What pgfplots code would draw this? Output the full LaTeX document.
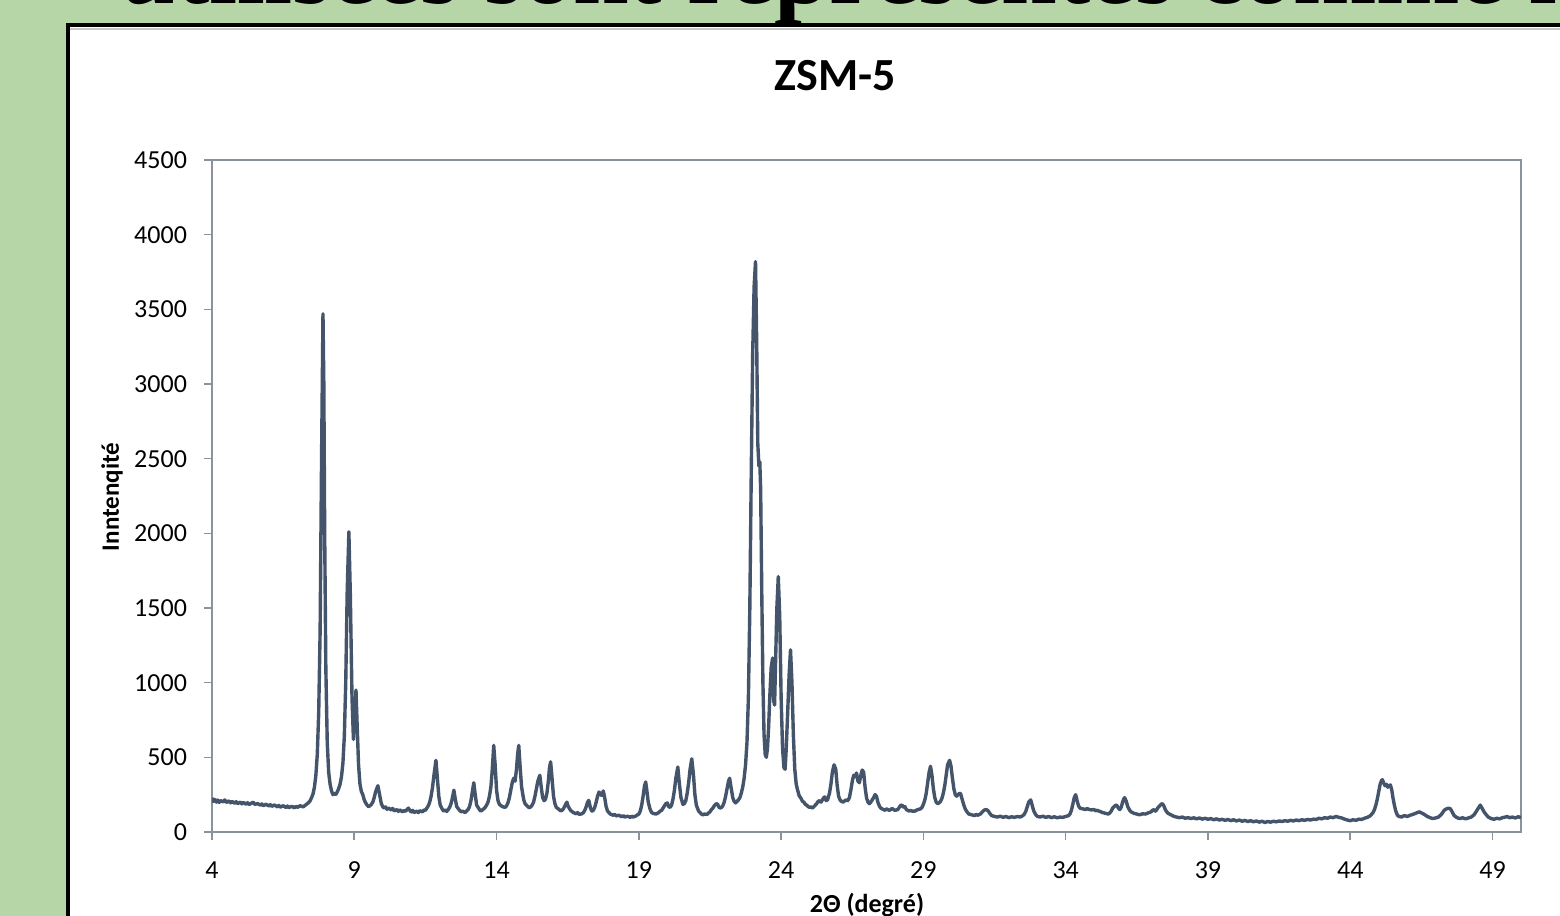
\documentclass[border=0pt]{standalone}
\usepackage{fontspec}
\setmainfont{Carlito}
\newfontfamily\serifbig{Liberation Serif}
\usepackage{pgfplots}
\pgfplotsset{compat=1.18}
\usepackage{pgfplotstable}
\definecolor{bggreen}{HTML}{B7D6A8}
\definecolor{linecol}{HTML}{44546A}
\definecolor{axcol}{HTML}{8A929C}

\pgfplotstableread{
x y
4.00 228
4.05 205
4.10 218
4.15 200
4.20 214
4.25 198
4.30 210
4.40 202
4.45 215
4.50 198
4.60 208
4.65 195
4.70 205
4.80 192
4.85 203
4.90 190
5.00 200
5.05 188
5.10 198
5.20 186
5.25 196
5.30 184
5.40 194
5.45 200
5.50 185
5.60 190
5.70 180
5.75 188
5.80 176
5.90 186
6.00 174
6.05 183
6.10 172
6.20 181
6.30 168
6.35 178
6.40 166
6.50 176
6.60 164
6.65 174
6.70 163
6.80 172
6.90 162
6.95 172
7.00 165
7.10 176
7.20 168
7.30 182
7.35 190
7.40 198
7.45 210
7.50 230
7.55 255
7.60 300
7.65 380
7.70 520
7.75 800
7.80 1350
7.85 2500
7.90 3470
7.93 3000
7.96 2000
8.00 1100
8.05 600
8.10 400
8.15 320
8.20 275
8.25 250
8.30 260
8.35 252
8.40 268
8.45 290
8.50 320
8.55 370
8.60 460
8.65 640
8.70 1000
8.75 1600
8.81 2010
8.86 1600
8.92 900
8.97 620
9.02 780
9.06 950
9.10 720
9.15 450
9.20 320
9.25 270
9.30 250
9.35 215
9.40 195
9.45 180
9.50 170
9.55 175
9.60 185
9.65 200
9.70 230
9.75 270
9.83 310
9.90 240
9.95 190
10.00 170
10.05 160
10.10 168
10.15 152
10.20 160
10.30 148
10.35 158
10.40 142
10.50 150
10.55 138
10.60 148
10.70 135
10.75 145
10.80 138
10.85 150
10.90 160
10.95 145
11.00 135
11.05 145
11.10 130
11.20 140
11.25 130
11.30 142
11.40 135
11.45 148
11.50 145
11.55 160
11.60 175
11.65 200
11.70 240
11.75 300
11.80 380
11.87 480
11.92 360
11.97 240
12.02 180
12.10 150
12.15 140
12.20 148
12.25 138
12.30 150
12.35 165
12.40 190
12.45 230
12.50 280
12.55 220
12.60 170
12.70 145
12.75 135
12.80 140
12.90 130
12.95 142
13.00 150
13.05 170
13.10 210
13.15 270
13.20 330
13.25 250
13.30 180
13.40 150
13.45 140
13.50 148
13.55 155
13.60 165
13.65 180
13.70 200
13.75 240
13.80 300
13.85 420
13.90 580
13.95 450
14.00 280
14.05 210
14.10 185
14.20 170
14.30 165
14.35 175
14.40 195
14.45 230
14.50 280
14.55 330
14.60 360
14.65 340
14.70 420
14.74 520
14.78 580
14.83 430
14.88 300
14.95 220
15.00 190
15.10 170
15.15 162
15.20 168
15.25 180
15.30 200
15.35 240
15.40 290
15.45 340
15.52 380
15.57 300
15.62 230
15.67 210
15.72 220
15.77 260
15.82 340
15.86 430
15.90 470
15.95 360
16.00 240
16.05 190
16.10 165
16.20 150
16.25 142
16.30 145
16.35 155
16.40 175
16.47 200
16.52 170
16.60 145
16.70 130
16.80 122
16.85 130
16.90 118
17.00 122
17.05 130
17.10 145
17.15 170
17.20 200
17.24 212
17.30 160
17.35 140
17.40 145
17.45 165
17.50 200
17.55 240
17.60 268
17.65 250
17.70 245
17.75 275
17.80 230
17.85 170
17.90 140
18.00 120
18.10 112
18.15 118
18.20 108
18.30 112
18.40 102
18.45 110
18.50 100
18.60 106
18.70 98
18.75 106
18.80 100
18.90 108
18.95 115
19.00 120
19.05 140
19.10 180
19.15 240
19.20 310
19.24 335
19.28 280
19.33 200
19.40 150
19.45 130
19.50 125
19.60 120
19.65 125
19.70 130
19.75 140
19.80 145
19.85 160
19.90 175
19.95 190
20.00 195
20.05 170
20.10 165
20.15 180
20.20 220
20.25 280
20.30 360
20.37 435
20.42 330
20.48 230
20.55 185
20.60 190
20.65 210
20.70 260
20.75 330
20.80 420
20.86 490
20.92 380
20.97 250
21.02 180
21.10 140
21.20 120
21.25 115
21.30 120
21.40 118
21.45 128
21.50 135
21.55 150
21.60 160
21.65 175
21.72 190
21.77 185
21.82 165
21.88 160
21.95 175
22.00 200
22.05 240
22.10 290
22.15 340
22.19 360
22.24 300
22.30 230
22.35 205
22.40 195
22.45 205
22.50 215
22.55 230
22.60 260
22.65 300
22.70 360
22.75 450
22.80 600
22.85 900
22.90 1500
22.95 2400
23.00 3200
23.05 3650
23.10 3820
23.14 3300
23.18 2600
23.22 2450
23.25 2480
23.28 2300
23.32 1600
23.36 1000
23.40 650
23.44 520
23.48 500
23.52 560
23.56 700
23.60 900
23.65 1100
23.70 1165
23.74 880
23.77 850
23.80 1100
23.85 1500
23.90 1710
23.95 1450
24.00 900
24.05 560
24.10 430
24.14 420
24.18 560
24.23 800
24.28 1050
24.33 1220
24.38 1000
24.43 650
24.48 420
24.53 320
24.58 280
24.63 245
24.70 225
24.75 205
24.80 200
24.85 185
24.90 180
24.95 170
25.00 165
25.05 168
25.10 160
25.15 170
25.20 180
25.25 190
25.30 205
25.35 210
25.40 200
25.45 215
25.50 230
25.53 235
25.58 210
25.63 215
25.70 260
25.75 320
25.80 400
25.86 450
25.92 420
25.97 310
26.02 240
26.07 215
26.12 205
26.18 200
26.24 210
26.30 215
26.34 210
26.40 230
26.45 280
26.50 340
26.55 380
26.60 370
26.65 395
26.70 340
26.75 330
26.80 380
26.85 415
26.90 400
26.95 300
27.00 230
27.05 200
27.10 190
27.15 200
27.20 215
27.25 230
27.30 250
27.35 240
27.40 200
27.45 175
27.50 160
27.60 150
27.65 145
27.70 155
27.80 145
27.85 150
27.90 158
27.95 150
28.00 145
28.10 150
28.15 165
28.20 178
28.25 180
28.30 165
28.35 170
28.40 150
28.50 140
28.55 145
28.60 140
28.70 140
28.80 150
28.90 155
28.95 165
29.00 185
29.05 215
29.10 260
29.15 330
29.20 400
29.25 440
29.30 380
29.35 290
29.40 230
29.45 200
29.50 190
29.55 195
29.60 205
29.65 225
29.70 260
29.75 310
29.80 380
29.85 450
29.92 480
29.97 440
30.02 360
30.07 290
30.12 250
30.17 240
30.22 250
30.27 260
30.31 255
30.36 220
30.42 180
30.48 150
30.55 130
30.60 120
30.70 115
30.80 110
30.85 118
30.90 112
31.00 120
31.05 130
31.10 140
31.15 148
31.22 150
31.28 140
31.35 120
31.40 110
31.50 104
31.60 100
31.70 106
31.80 98
31.90 104
32.00 96
32.10 102
32.20 98
32.30 104
32.40 100
32.50 110
32.55 120
32.60 140
32.65 170
32.70 200
32.77 215
32.82 180
32.88 140
32.95 115
33.00 105
33.10 100
33.20 106
33.30 98
33.40 104
33.50 96
33.60 102
33.70 95
33.80 100
33.90 98
34.00 104
34.10 110
34.15 120
34.20 145
34.25 185
34.30 230
34.35 250
34.40 210
34.45 175
34.50 160
34.60 155
34.70 150
34.75 158
34.80 152
34.90 148
35.00 150
35.05 142
35.10 145
35.20 138
35.30 130
35.40 125
35.50 120
35.55 128
35.60 140
35.65 160
35.70 170
35.75 178
35.79 180
35.85 160
35.90 150
35.95 165
36.00 200
36.05 225
36.07 230
36.12 210
36.18 170
36.25 145
36.30 135
36.40 125
36.50 120
36.60 115
36.70 122
36.80 120
36.90 128
37.00 135
37.05 145
37.10 150
37.15 140
37.20 150
37.25 165
37.30 175
37.35 185
37.40 190
37.45 175
37.50 150
37.55 135
37.60 125
37.70 115
37.80 105
37.90 100
38.00 96
38.10 100
38.20 92
38.30 96
38.40 90
38.50 95
38.60 88
38.70 94
38.80 86
38.90 92
39.00 85
39.10 90
39.20 82
39.30 88
39.40 80
39.50 85
39.60 78
39.70 84
39.80 76
39.90 82
40.00 74
40.10 80
40.20 72
40.30 78
40.40 70
40.50 76
40.60 68
40.70 74
40.80 66
40.90 72
41.00 64
41.10 70
41.20 66
41.30 72
41.40 68
41.50 74
41.60 70
41.70 76
41.80 72
41.90 78
42.00 74
42.10 80
42.20 76
42.30 82
42.40 78
42.50 84
42.60 80
42.70 86
42.80 84
42.90 92
43.00 88
43.10 96
43.20 92
43.30 100
43.40 96
43.50 104
43.60 98
43.70 94
43.80 86
43.90 80
44.00 76
44.10 82
44.20 78
44.30 86
44.40 84
44.50 92
44.60 98
44.70 108
44.80 130
44.85 150
44.90 180
44.95 220
45.00 270
45.05 320
45.10 345
45.13 350
45.17 330
45.22 310
45.27 320
45.32 300
45.37 310
45.41 315
45.46 280
45.50 230
45.55 180
45.60 140
45.65 115
45.70 105
45.80 100
45.90 110
46.00 104
46.10 112
46.20 118
46.30 125
46.35 130
46.43 135
46.50 128
46.60 118
46.70 105
46.80 96
46.90 90
47.00 94
47.10 100
47.20 118
47.25 130
47.30 145
47.35 152
47.45 160
47.52 155
47.58 135
47.65 110
47.75 96
47.85 90
47.95 95
48.05 88
48.15 94
48.25 100
48.35 115
48.42 135
48.50 160
48.57 180
48.63 160
48.70 135
48.78 115
48.85 100
48.95 90
49.05 85
49.15 92
49.25 88
49.35 96
49.45 100
49.50 104
49.60 96
49.70 100
49.80 94
49.90 102
50.00 96
}\xrd

\begin{document}
\begin{tikzpicture}
\useasboundingbox (0pt,0pt) rectangle (780pt,458pt);
\clip (0pt,0pt) rectangle (780pt,458pt);
\fill[bggreen] (0pt,0pt) rectangle (780pt,458pt);
\node[anchor=base west, inner sep=0, font=\serifbig\bfseries\fontsize{50}{60}\selectfont] at (60pt,456pt) {utilisées sont représentés comme les};
\fill[white] (34pt,-10pt) rectangle (800pt,445.5pt);
\draw[gray!45, line width=0.8pt] (35pt,443.6pt) -- (800pt,443.6pt);
\draw[black, line width=2pt] (34pt,-10pt) -- (34pt,445.5pt) -- (800pt,445.5pt);
\begin{axis}[
  at={(106pt,42pt)}, anchor=south west,
  scale only axis, width=654.5pt, height=336pt,
  xmin=4, xmax=50, ymin=0, ymax=4500,
  xtick={4,9,...,49}, ytick={0,500,...,4500},
  axis line style={axcol, line width=0.8pt},
  tick style={axcol, line width=0.8pt},
  tick align=outside, major tick length=4pt,
  xtick pos=bottom, ytick pos=left,
  ticklabel style={font=\fontsize{13}{15}\selectfont, text=black},
  /pgf/number format/assume math mode=true,
  /pgf/number format/1000 sep={},
  yticklabel style={xshift=-5pt},
  xticklabel style={yshift=-7.5pt},
  clip=true,
]
\addplot[linecol, line width=1.7pt, line join=round, no markers] table[x=x,y=y]{\xrd};
\end{axis}
\node[font=\bfseries\fontsize{23}{27}\selectfont] at (417.5pt,420pt) {ZSM-5};
\node[anchor=base, inner sep=0, font=\bfseries\fontsize{13}{15}\selectfont] at (433.5pt,1.5pt) {2Θ (degré)};
\node[rotate=90, font=\bfseries\fontsize{12.5}{15}\selectfont] at (56pt,209.5pt) {Inntenqité};
\end{tikzpicture}
\end{document}
